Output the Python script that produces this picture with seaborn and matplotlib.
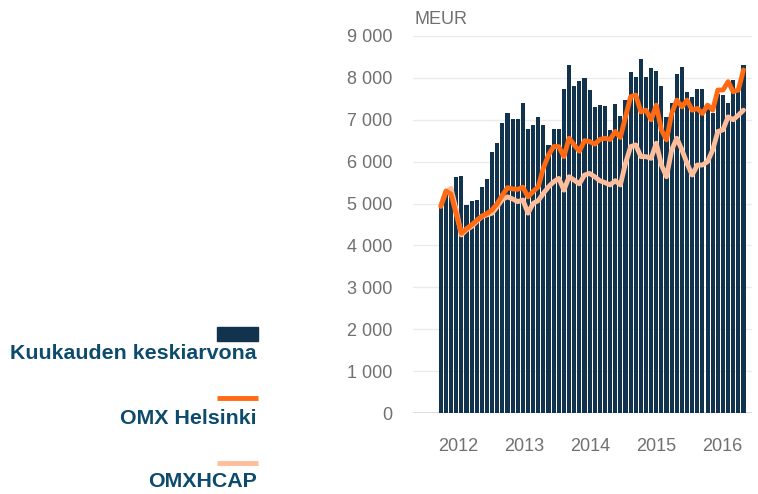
import numpy as np
import pandas as pd
import matplotlib
matplotlib.use("Agg")
import matplotlib.pyplot as plt
from matplotlib.patches import Rectangle
from matplotlib.lines import Line2D
import seaborn as sns

# Kuukausittainen kaupankäynti (MEUR), syyskuu 2011 -> 2016
kuukausi_keskiarvo = [
    4925, 5200, 5250, 5640, 5660, 4965, 5060, 5085, 5400, 5590,
    6230, 6450, 6930, 7170, 7020, 7020, 7400, 6780, 6875, 7070,
    6875, 6400, 6780, 6780, 7735, 8310, 7810, 7925, 8000, 7715,
    7300, 7350, 7320, 6755, 7375, 7090, 7470, 8145, 8020, 8445,
    8020, 8240, 8170, 7810, 7070, 7390, 8090, 8265, 7665, 7550,
    7735, 7735, 7250, 7150, 7610, 7590, 7390, 7950, 7740, 8300,
]
omx_helsinki = [
    4930, 5300, 5220, 4750, 4290, 4400, 4490, 4600, 4700, 4760,
    4850, 5000, 5200, 5380, 5350, 5340, 5390, 5160, 5290, 5400,
    5850, 6160, 6360, 6360, 6120, 6560, 6400, 6250, 6500, 6480,
    6420, 6530, 6560, 6530, 6720, 6580, 7070, 7550, 7590, 7190,
    7230, 7000, 7350, 6760, 6520, 7150, 7470, 7310, 7470, 7230,
    7270, 7150, 7350, 7230, 7710, 7710, 7910, 7670, 7710, 8190,
]
omxhcap = [
    4965, 5280, 5360, 4850, 4250, 4370, 4450, 4570, 4690, 4730,
    4770, 4925, 5100, 5160, 5110, 5045, 5085, 4770, 5005, 5070,
    5245, 5400, 5520, 5600, 5320, 5640, 5560, 5470, 5680, 5720,
    5640, 5545, 5500, 5445, 5545, 5445, 5960, 6360, 6400, 6120,
    6120, 6080, 6440, 5920, 5640, 6280, 6560, 6280, 5960, 5680,
    5920, 5920, 6000, 6280, 6720, 6760, 7070, 7000, 7110, 7230,
]
vuodet = ["2012", "2013", "2014", "2015", "2016"]
y_arvot = [0, 1000, 2000, 3000, 4000, 5000, 6000, 7000, 8000, 9000]

NAVY = "#12334d"
ORANSSI = "#ff6a13"
PERSIKKA = "#ffbe9b"
TEKSTI = "#0d4b6e"
HARMAA = "#707070"

df = pd.DataFrame({
    "kk": np.arange(len(kuukausi_keskiarvo)),
    "arvo": kuukausi_keskiarvo,
    "omx": omx_helsinki,
    "cap": omxhcap,
})

sns.set_style("white")
plt.rcParams["font.family"] = ["Liberation Sans", "DejaVu Sans"]

fig = plt.figure(figsize=(7.58, 4.94), dpi=100)
ax = fig.add_axes([413 / 758, 81 / 494, 339 / 758, 377 / 494])

sns.barplot(data=df, x="kk", y="arvo", color=NAVY, saturation=1,
            width=0.8, linewidth=0, ax=ax, zorder=2)
sns.lineplot(data=df, x="kk", y="cap", color=PERSIKKA, lw=3.5, ax=ax,
             zorder=3)
sns.lineplot(data=df, x="kk", y="omx", color=ORANSSI, lw=3.5, ax=ax,
             zorder=4)

ax.set_xlim(-5.42, 60.66)
ax.set_ylim(0, 9000)
ax.set_xlabel("")
ax.set_ylabel("")

# vuosien paikat akselilla
vuosi_paikat = [3.4 + 12.88 * i for i in range(len(vuodet))]
ax.set_xticks(vuosi_paikat)
ax.set_xticklabels(vuodet)
ax.set_yticks(y_arvot)
ax.set_yticklabels([f"{v:,}".replace(",", " ") for v in y_arvot])
ax.tick_params(axis="both", length=0, labelsize=13, labelcolor=HARMAA)
ax.tick_params(axis="x", pad=18)
ax.tick_params(axis="y", pad=15)

for v in y_arvot[1:]:
    ax.axhline(v, color="#ebebeb", lw=1, zorder=1)
ax.axhline(0, color="#dedede", lw=1.5, zorder=1)
sns.despine(ax=ax, left=True, bottom=True)

ax.text(0.005, 1.022, "MEUR", transform=ax.transAxes, fontsize=13,
        color=HARMAA, ha="left", va="bottom")

# selite vasemmalla
def fx(px):
    return px / 758

def fy(py):
    return 1 - py / 494

fig.add_artist(Rectangle((fx(217), fy(341)), fx(258) - fx(217),
                         fy(327) - fy(341), color=NAVY,
                         transform=fig.transFigure))
fig.add_artist(Line2D([fx(217), fx(258)], [fy(398), fy(398)], color=ORANSSI,
                      lw=3.5, solid_capstyle="butt",
                      transform=fig.transFigure))
fig.add_artist(Line2D([fx(217), fx(258)], [fy(463), fy(463)], color=PERSIKKA,
                      lw=3.5, solid_capstyle="butt",
                      transform=fig.transFigure))

selitteet = [("Kuukauden keskiarvona", 353), ("OMX Helsinki", 418),
             ("OMXHCAP", 481)]
for teksti, py in selitteet:
    fig.text(fx(257), fy(py), teksti, ha="right", va="center",
             fontsize=15.4, fontweight="bold", color=TEKSTI)

fig.savefig("out.png", dpi=100)
